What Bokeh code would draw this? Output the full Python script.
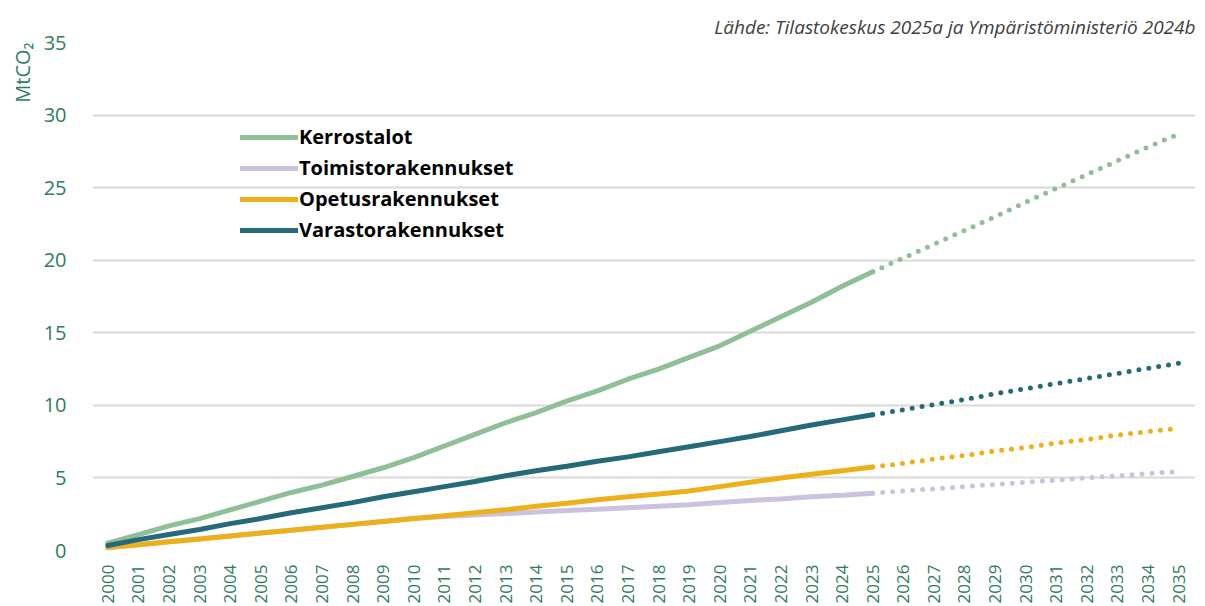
import math
from bokeh.plotting import figure
from bokeh.models import Range1d, FixedTicker, Legend, LegendItem, Title
from bokeh.embed import file_html
from bokeh.resources import INLINE

years_hist = list(range(2000, 2026))
years_proj = list(range(2025, 2036))
tick_years = list(range(2000, 2036))

series_names = ["Kerrostalot", "Toimistorakennukset", "Opetusrakennukset", "Varastorakennukset"]
series_colors = ["#8FBF96", "#CCC1DE", "#EDB019", "#246A7A"]

kerrostalot_hist = [0.5, 1.1, 1.7, 2.2, 2.8, 3.4, 4.0, 4.5, 5.1, 5.7, 6.4, 7.2, 8.0, 8.8,
                    9.5, 10.3, 11.0, 11.8, 12.5, 13.3, 14.1, 15.1, 16.1, 17.1, 18.2, 19.2]
kerrostalot_proj = [19.2, 20.15, 21.1, 22.05, 23.0, 24.0, 24.95, 25.9, 26.85, 27.8, 28.7]

toimisto_hist = [0.2, 0.4, 0.6, 0.8, 1.0, 1.2, 1.4, 1.6, 1.8, 2.0, 2.2, 2.35, 2.45, 2.55,
                 2.65, 2.75, 2.85, 2.95, 3.05, 3.15, 3.3, 3.45, 3.55, 3.7, 3.8, 3.95]
toimisto_proj = [3.95, 4.1, 4.25, 4.4, 4.55, 4.7, 4.85, 5.0, 5.15, 5.3, 5.45]

opetus_hist = [0.2, 0.4, 0.6, 0.8, 1.0, 1.2, 1.4, 1.6, 1.8, 2.0, 2.2, 2.4, 2.6, 2.8,
               3.05, 3.25, 3.5, 3.7, 3.9, 4.1, 4.4, 4.7, 5.0, 5.25, 5.5, 5.75]
opetus_proj = [5.75, 6.0, 6.3, 6.55, 6.85, 7.1, 7.4, 7.65, 7.95, 8.2, 8.4]

varasto_hist = [0.35, 0.75, 1.1, 1.45, 1.85, 2.2, 2.6, 2.95, 3.3, 3.7, 4.05, 4.4, 4.75,
                5.15, 5.5, 5.8, 6.15, 6.45, 6.8, 7.15, 7.5, 7.85, 8.25, 8.65, 9.0, 9.35]
varasto_proj = [9.35, 9.7, 10.05, 10.4, 10.8, 11.15, 11.5, 11.85, 12.2, 12.55, 12.9]

hist_values = [kerrostalot_hist, toimisto_hist, opetus_hist, varasto_hist]
proj_values = [kerrostalot_proj, toimisto_proj, opetus_proj, varasto_proj]

y_ticks = [0, 5, 10, 15, 20, 25, 30, 35]
source_text = "Lähde: Tilastokeskus 2025a ja Ympäristöministeriö 2024b"
y_title = "MtCO₂"

TEXT_GREEN = "#2E7D60"
FONT = "Open Sans"

p = figure(frame_width=1103, frame_height=508, output_backend="svg", toolbar_location=None,
           x_range=Range1d(1999.5, 2035.55), y_range=Range1d(0, 35),
           min_border_left=92, min_border_right=8, min_border_top=42, min_border_bottom=54)
p.outline_line_color = None
p.background_fill_color = "white"
p.border_fill_color = "white"

p.title.text = source_text
p.title.align = "right"
p.title.text_font = FONT
p.title.text_font_style = "italic"
p.title.text_font_size = "19px"
p.title.text_color = "#404040"
p.title.standoff = 6

p.xgrid.grid_line_color = None
p.ygrid.grid_line_color = "#D9D9D9"
p.ygrid.grid_line_width = 2
p.yaxis.ticker = FixedTicker(ticks=y_ticks)
p.xaxis.ticker = FixedTicker(ticks=tick_years)

for ax in (p.xaxis, p.yaxis):
    ax.axis_line_color = None
    ax.major_tick_line_color = None
    ax.minor_tick_line_color = None
    ax.major_label_text_color = TEXT_GREEN
    ax.major_label_text_font = FONT

p.yaxis.major_label_text_font_size = "20px"
p.yaxis.major_label_standoff = 20
p.xaxis.major_label_text_font_size = "17px"
p.xaxis.major_label_orientation = math.pi / 2
p.xaxis.major_label_standoff = 8

items = []
for name, color, hv, pv in zip(series_names, series_colors, hist_values, proj_values):
    r = p.line(years_hist, hv, line_color=color, line_width=5, line_cap="round", line_join="round")
    p.line(years_proj, pv, line_color=color, line_width=5, line_cap="round", line_dash="0 10")
    items.append(LegendItem(label=name, renderers=[r]))

legend = Legend(items=items, location=(148, 307), orientation="vertical")
legend.background_fill_alpha = 0
legend.border_line_color = None
legend.padding = 0
legend.margin = 0
legend.spacing = 4
legend.glyph_width = 58
legend.glyph_height = 20
legend.label_height = 20
legend.label_standoff = 1
legend.label_text_font = FONT
legend.label_text_font_style = "bold"
legend.label_text_font_size = "20px"
legend.label_text_color = "#000000"
p.add_layout(legend, "center")

p.add_layout(Title(text=y_title, align="right", text_font=FONT, text_font_style="normal",
                   text_font_size="20px", text_color=TEXT_GREEN, offset=0), "left")

open("out.html", "w").write(file_html(p, INLINE))
